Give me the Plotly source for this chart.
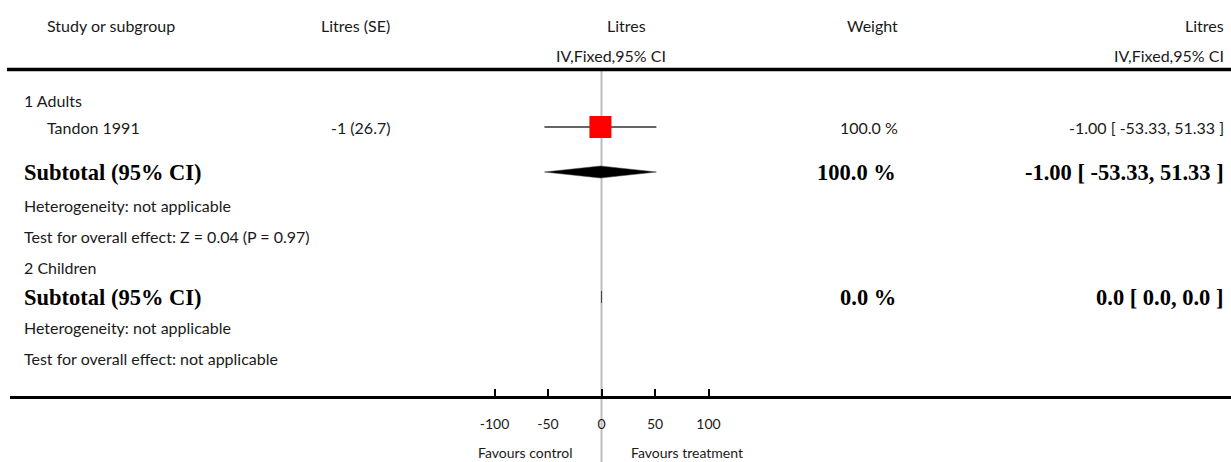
import plotly.graph_objects as go

W, H = 1231, 462

# ---- data ----
header_cols = ["Study or subgroup", "Litres (SE)", "Litres", "Weight", "Litres"]
header_sub = ["IV,Fixed,95% CI", "IV,Fixed,95% CI"]
study_names = ["Tandon 1991"]
study_est = [-1.0]
study_lo = [-53.33]
study_hi = [51.33]
study_se_text = ["-1 (26.7)"]
study_weight = ["100.0 %"]
study_ci_text = ["-1.00 [ -53.33, 51.33 ]"]
sub_est = [-1.0, 0.0]
sub_lo = [-53.33, 0.0]
sub_hi = [51.33, 0.0]
sub_weight = ["100.0 %", "0.0 %"]
sub_ci_text = ["-1.00 [ -53.33, 51.33 ]", "0.0 [ 0.0, 0.0 ]"]
group_names = ["1 Adults", "2 Children"]
hetero_text = ["Heterogeneity: not applicable", "Heterogeneity: not applicable"]
overall_text = ["Test for overall effect: Z = 0.04 (P = 0.97)", "Test for overall effect: not applicable"]
tick_vals = [-100, -50, 0, 50, 100]
tick_text = ["-100", "-50", "0", "50", "100"]
favours = ["Favours control", "Favours treatment"]

# ---- layout geometry (pixels) ----
ZERO_PX = 601.5
PX_PER_UNIT = 1.07
AXIS_Y = 396
AX_LEFT = 10

def px(x):
    return x / W

def py(y):
    return 1 - y / H

xr = [(AX_LEFT - ZERO_PX) / PX_PER_UNIT, (W - ZERO_PX) / PX_PER_UNIT]

FONT = "Lato"
SERIF = "Liberation Serif"
TC = "#1a1a1a"
FS = 16
BFS = 22.5

fig = go.Figure()

# zero line
fig.add_shape(type="line", xref="x", yref="paper", x0=0, x1=0,
              y0=py(71), y1=py(H), line=dict(color="#bdbdbd", width=2), layer="below")
# top rule
fig.add_shape(type="line", xref="paper", yref="paper", x0=px(7), x1=px(W),
              y0=py(69.5), y1=py(69.5), line=dict(color="black", width=3.5))

rows_y = {"g1": 101, "s1": 127, "sub1": 172, "het1": 205, "ov1": 236,
          "g2": 267, "sub2": 297, "het2": 327, "ov2": 358}

# study CI lines and squares
for i, name in enumerate(study_names):
    y = rows_y["s1"]
    fig.add_trace(go.Scatter(x=[study_lo[i], study_hi[i]], y=[y, y], mode="lines",
                             line=dict(color="#666666", width=2), hoverinfo="skip"))
    fig.add_trace(go.Scatter(x=[study_est[i]], y=[y], mode="markers",
                             marker=dict(symbol="square", size=22, color="#ff0000",
                                         line=dict(width=0)), hoverinfo="skip"))

# subtotal diamonds
for i, key in enumerate(["sub1", "sub2"]):
    y = rows_y[key]
    h = 6
    fig.add_trace(go.Scatter(x=[sub_lo[i], sub_est[i], sub_hi[i], sub_est[i], sub_lo[i]],
                             y=[y, y - h, y, y + h, y], mode="lines", fill="toself",
                             fillcolor="black",
                             line=dict(color="#444", width=1 if sub_lo[i] == sub_hi[i] else 0.5),
                             hoverinfo="skip"))

ann = []
def text(x, y, s, anchor="left", bold=False, size=None):
    ann.append(dict(x=px(x), y=py(y), xref="paper", yref="paper", text=s, showarrow=False,
                    xanchor=anchor, yanchor="middle",
                    font=dict(family=SERIF if bold else FONT, size=size or (BFS if bold else FS),
                              color="black" if bold else TC,
                              weight=700 if bold else 400)))

text(45, 25, header_cols[0])
text(392, 25, header_cols[1], "right")
text(627, 25, header_cols[2], "center")
text(611, 55, header_sub[0], "center")
text(900, 25, header_cols[3], "right")
text(1226, 25, header_cols[4], "right")
text(1226, 55, header_sub[1], "right")

text(22, rows_y["g1"], group_names[0])
text(45, rows_y["s1"], study_names[0])
text(392, rows_y["s1"], study_se_text[0], "right")
text(900, rows_y["s1"], study_weight[0], "right")
text(1226, rows_y["s1"], study_ci_text[0], "right")

for i, (sk, hk, ok) in enumerate([("sub1", "het1", "ov1"), ("sub2", "het2", "ov2")]):
    text(22, rows_y[sk], "Subtotal (95% CI)", bold=True)
    text(898, rows_y[sk], sub_weight[i], "right", bold=True)
    text(1226, rows_y[sk], sub_ci_text[i], "right", bold=True)
    text(22, rows_y[hk], hetero_text[i])
    text(22, rows_y[ok], overall_text[i])
text(22, rows_y["g2"], group_names[1])

text(575, 452, favours[0], "right", size=14)
text(629, 452, favours[1], "left", size=14)

fig.update_layout(
    width=W, height=H, autosize=False,
    margin=dict(l=0, r=0, t=0, b=0, pad=0),
    paper_bgcolor="white", plot_bgcolor="white",
    showlegend=False,
    annotations=ann,
    xaxis=dict(domain=[AX_LEFT / W, 1], range=xr, showgrid=False, zeroline=False,
               showline=True, linecolor="black", linewidth=3,
               ticks="inside", ticklen=7, tickwidth=2, tickcolor="black",
               tickvals=tick_vals, ticktext=tick_text, ticklabelstandoff=13,
               tickfont=dict(family=FONT, size=14, color=TC, weight=400), fixedrange=True),
    yaxis=dict(domain=[(H - AXIS_Y) / H, 1], range=[AXIS_Y, 0], visible=False,
               showgrid=False, zeroline=False, fixedrange=True),
)

fig.write_html("out.html", config={"displayModeBar": False, "staticPlot": True},
               post_script="document.body.style.margin='0';document.body.style.overflow='hidden';")
